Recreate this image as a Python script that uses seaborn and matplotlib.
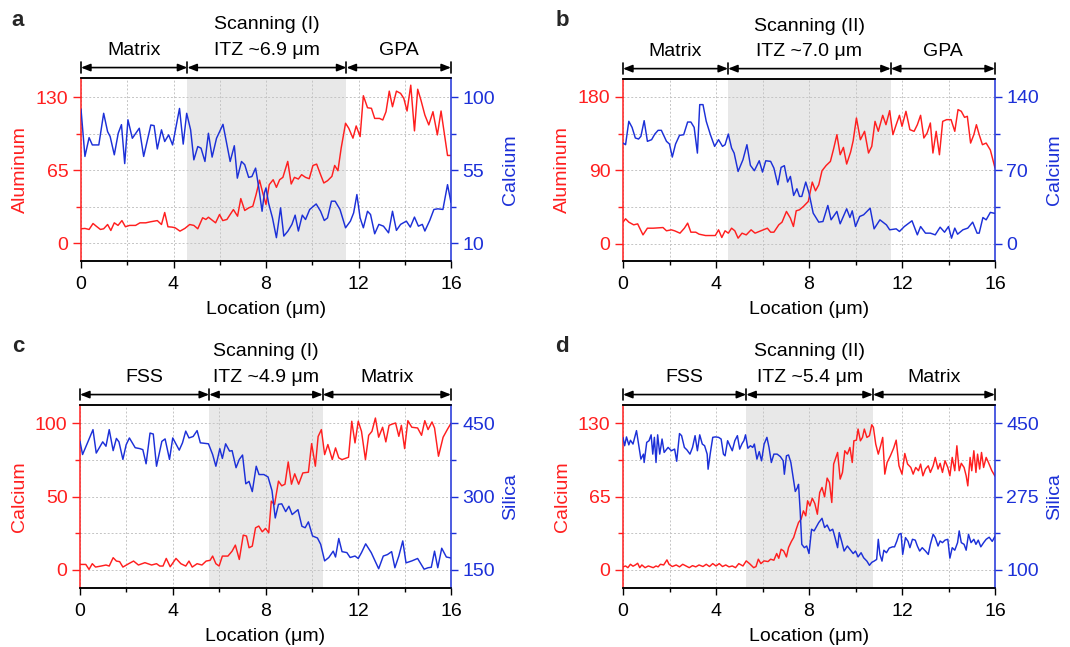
import numpy as np
import pandas as pd
import matplotlib
matplotlib.use("Agg")
import matplotlib.pyplot as plt
import matplotlib.transforms as mtransforms
from matplotlib.ticker import FixedLocator
import seaborn as sns

sns.set_theme(style="white")
plt.rcParams["font.family"] = ["Liberation Sans", "DejaVu Sans"]

# ---------------- data: (location in um, intensity) ----------------
a_al = [(0,12.7),(0.17,13),(0.35,12.1),(0.52,17.4),(0.66,15),(0.84,12.1),(0.98,12.7),(1.15,16.5),(1.29,11.2),(1.44,18),
        (1.6,15.7),(1.77,20),(1.92,14.5),(2.1,15.7),(2.36,15.7),(2.55,18),(2.8,18),(3.0,18.9),(3.3,20),(3.48,16.5),
        (3.62,27.2),(3.76,14.5),(3.93,14.2),(4.07,13.6),(4.28,10.6),(4.49,13),(4.7,16.5),(4.88,15.7),(5.05,12.7),(5.26,22.5),
        (5.4,21),(5.51,23),(5.67,20.4),(5.82,18),(5.99,25.4),(6.13,20),(6.31,21),(6.59,29.8),(6.77,23.9),(6.91,39.6),
        (7.08,29),(7.25,31.3),(7.43,32.8),(7.57,43.1),(7.72,56),(7.86,44.6),(8.0,34.3),(8.14,52),(8.31,56.4),(8.45,49.6),
        (8.59,56.4),(8.73,58.5),(8.94,72.7),(9.09,52.6),(9.23,58.5),(9.4,57),(9.54,60.9),(9.71,58.5),(9.87,57.3),(10.03,69.1),
        (10.19,70.3),(10.36,60.9),(10.5,53.5),(10.66,55.5),(10.85,59.4),(10.97,69.1),(11.11,64.4),(11.25,84.5),(11.44,106.7),(11.58,102.2),
        (11.76,93.4),(11.9,104.3),(12.07,94.8),(12.21,131.2),(12.39,120.5),(12.56,120),(12.7,111),(12.91,111),(13.05,109.6),(13.19,117),
        (13.33,135.3),(13.47,121.4),(13.64,135.3),(13.82,133.3),(13.96,128.8),(14.1,117.6),(14.26,140.6),(14.42,99.9),(14.56,137),(14.7,127.3),
        (14.87,114),(15.04,105.2),(15.22,117),(15.41,96.3),(15.57,117.6),(15.85,78),(16,78)]
a_ca = [(0,92.6),(0.17,63.4),(0.35,75),(0.49,70.5),(0.77,70.5),(0.98,90),(1.15,78.7),(1.26,75.7),(1.44,64.4),(1.61,77.7),
        (1.75,83),(1.89,59),(2.03,86),(2.22,74.6),(2.52,80.8),(2.71,63.4),(3.02,82.8),(3.16,82.4),(3.30,68),(3.48,79.8),
        (3.62,72.6),(3.79,76.7),(3.96,70.5),(4.26,93),(4.42,71),(4.57,90),(4.74,79.8),(4.88,61.3),(5.05,69.5),(5.19,68.5),
        (5.36,60.3),(5.51,77.7),(5.67,63),(5.86,74.6),(6.14,83.2),(6.45,60.3),(6.63,70),(6.76,50),(6.94,60.3),(7.08,58.3),
        (7.25,50.5),(7.39,51),(7.55,56.2),(7.69,44),(7.83,29.6),(7.93,40.9),(8.0,44),(8.11,34.7),(8.28,25.5),(8.45,13.3),
        (8.63,31.7),(8.77,14.3),(8.95,17.4),(9.12,21.5),(9.26,27.2),(9.4,17.4),(9.57,27.2),(9.71,24.5),(9.89,30.7),(10.17,34.1),
        (10.36,29.6),(10.52,23.9),(10.66,25.5),(10.83,35.8),(10.99,35.8),(11.2,30.7),(11.44,19.4),(11.65,23.5),(11.79,28.6),(11.93,39.9),
        (12.07,25.5),(12.21,19.4),(12.39,29.6),(12.52,27.6),(12.7,15.7),(12.88,21.5),(13.08,20.4),(13.3,16.3),(13.47,29.6),(13.64,17.8),
        (13.82,21.5),(14.07,23.5),(14.24,19.8),(14.42,26),(14.59,20.4),(14.76,21.5),(14.87,17.4),(15.08,23.9),(15.26,30.7),(15.43,31.1),
        (15.65,30.7),(15.85,46),(16,35)]

b_al = [(0,26.6),(0.11,30.7),(0.25,26.6),(0.46,23.3),(0.63,24.5),(0.86,11),(1.05,19.2),(1.3,19.2),(1.72,20),(1.87,16),
        (2.08,17.2),(2.22,16),(2.45,13.1),(2.64,19.2),(2.78,25.4),(2.92,14.3),(3.13,14.3),(3.27,11.9),(3.55,10.2),(3.97,10.2),
        (4.11,17.2),(4.25,7.8),(4.39,16),(4.53,13.1),(4.67,19.2),(4.81,16),(4.95,7),(5.12,13.1),(5.3,11),(5.51,17.2),
        (5.68,13.1),(5.93,16),(6.21,19.2),(6.35,14.3),(6.49,14.3),(6.7,23.3),(6.84,26.6),(7.03,39.7),(7.2,31.5),(7.33,21.3),
        (7.45,40.5),(7.59,41.7),(7.76,45.8),(7.97,52),(8.14,75.7),(8.28,65),(8.42,72.4),(8.56,89.6),(8.74,96.1),(8.92,101),
        (9.06,116.6),(9.2,133.8),(9.34,109.2),(9.48,118.2),(9.62,97.8),(9.79,112.5),(9.9,126.4),(10.04,154.2),(10.21,127.6),(10.39,137.9),
        (10.56,111.3),(10.7,119.5),(10.84,150.1),(10.98,137.9),(11.17,157.5),(11.31,146),(11.47,163.2),(11.61,133.8),(11.75,146),(11.89,157.5),
        (12.0,144),(12.17,162.4),(12.34,139.9),(12.52,137.9),(12.66,146),(12.8,157.5),(12.94,129.7),(13.08,135.8),(13.22,148.1),(13.33,111.3),
        (13.47,137.9),(13.61,109.2),(13.75,150.1),(13.92,152.2),(14.11,152.2),(14.27,137.9),(14.41,164.5),(14.55,162.4),(14.69,155),(14.81,156.3),
        (14.95,123.5),(15.09,133.8),(15.2,146),(15.32,133.8),(15.46,121.5),(15.62,123.5),(15.8,115),(16,93)]
b_ca = [(0,96.1),(0.11,94.5),(0.25,116.8),(0.39,111),(0.53,100.9),(0.67,99.9),(0.77,102.5),(0.91,117.4),(1.05,97.7),(1.23,99.3),
        (1.37,104.7),(1.51,108.2),(1.65,108.2),(1.87,97.7),(2.0,95.1),(2.12,82.7),(2.26,95.1),(2.43,103.4),(2.61,104),(2.78,116.1),
        (2.92,116.1),(3.06,111),(3.2,86.5),(3.3,132.7),(3.44,132.7),(3.58,116.8),(3.76,104),(3.94,92.9),(4.11,99.3),(4.28,92.9),
        (4.39,94.5),(4.53,104.7),(4.67,91.3),(4.78,86.5),(4.95,69),(5.16,80.2),(5.33,94.5),(5.48,74.8),(5.65,69.7),(5.86,79.2),
        (6.0,68.4),(6.14,79.2),(6.35,78.6),(6.49,72.2),(6.66,56.3),(6.8,72.9),(6.94,74.5),(7.08,58.9),(7.2,64.3),(7.34,46.1),
        (7.48,52.5),(7.59,45.2),(7.69,45.2),(7.86,58.9),(8.0,48.4),(8.18,29.3),(8.42,20.7),(8.6,21.3),(8.81,36.6),(8.95,22.9),
        (9.2,30.9),(9.34,19.1),(9.62,33.4),(9.76,25.1),(9.86,31.5),(10.0,16.5),(10.18,26.1),(10.35,27.7),(10.63,34),(10.8,14.3),
        (11.05,22.9),(11.33,18.1),(11.47,13.4),(11.75,14.3),(11.89,11.8),(12.1,16.5),(12.43,22),(12.66,8.6),(12.8,16.5),(13.01,10.2),
        (13.22,10.2),(13.43,8.6),(13.64,15.9),(13.83,11.1),(14.0,16.5),(14.13,5.4),(14.27,15),(14.39,9.2),(14.62,13.4),(14.83,15),
        (15.04,20.7),(15.23,10.2),(15.32,10.2),(15.48,25.1),(15.62,22.9),(15.8,30),(16,29)]

c_ca = [(0,3.6),(0.25,3.6),(0.39,0.2),(0.53,4.1),(0.67,1.8),(0.91,2.5),(1.12,3.2),(1.26,2.5),(1.43,8.2),(1.57,5.9),
        (1.71,5.5),(1.85,1.8),(2.1,4.1),(2.31,5.9),(2.52,3.2),(2.8,4.8),(3.09,3.2),(3.3,4.1),(3.44,2.5),(3.58,2.5),
        (3.72,7.7),(3.89,2),(4.14,7.7),(4.35,4.1),(4.56,2.5),(4.7,5.9),(4.84,1.8),(5.05,4.1),(5.26,3.2),(5.44,5.9),
        (5.61,6.4),(5.72,9.3),(5.86,4.1),(6.0,2.5),(6.14,9.3),(6.38,9.3),(6.56,12.7),(6.7,16.8),(6.87,7),(7.04,23.6),
        (7.18,23),(7.29,15),(7.43,16.1),(7.57,28.6),(7.71,29.8),(7.86,25.9),(8.0,28.2),(8.14,25.2),(8.25,46.8),(8.39,44.5),
        (8.56,60.5),(8.7,57.3),(8.84,58.4),(8.98,73.6),(9.12,58.4),(9.26,65.5),(9.43,58.4),(9.61,66.1),(9.85,66.6),(9.99,86.1),
        (10.15,70.7),(10.27,91),(10.41,95.7),(10.55,78.6),(10.69,85.5),(10.88,75.2),(11.02,83.2),(11.16,76.4),(11.3,75.2),(11.58,76.8),
        (11.72,101.4),(11.86,86.6),(12.0,101.4),(12.14,94.5),(12.31,75.2),(12.45,91.8),(12.59,94.5),(12.74,103.6),(12.88,90.5),(13.05,97.3),
        (13.19,87.3),(13.33,98.6),(13.47,99.5),(13.61,100.2),(13.75,91.1),(13.86,98.6),(14.0,82.7),(14.14,101.8),(14.31,97.3),(14.56,96.8),
        (14.73,91.8),(14.87,101.8),(15.01,95.7),(15.18,100.9),(15.29,96.8),(15.46,77.5),(15.66,90.5),(15.85,96),(16,100)]
c_si = [(0,413),(0.11,386),(0.35,413),(0.56,437),(0.7,389),(0.98,412),(1.12,403),(1.26,437),(1.43,394),(1.57,419),
        (1.68,412),(1.85,376),(1.99,406),(2.13,420),(2.38,400),(2.59,398),(2.71,396),(2.85,367),(3.02,430),(3.16,428),
        (3.3,362),(3.53,413),(3.67,418),(3.86,376),(4.0,420),(4.28,395),(4.42,410),(4.56,434),(4.7,420),(4.88,423),
        (5.05,435),(5.19,410),(5.54,408),(5.72,386),(5.86,362),(6.03,398),(6.14,378),(6.28,408),(6.45,393),(6.56,394),
        (6.73,359),(6.87,376),(7.01,385),(7.15,326),(7.29,331),(7.43,310),(7.6,362),(7.72,345),(7.93,345),(8.11,340),
        (8.28,312),(8.42,256),(8.56,284),(8.7,285),(8.87,269),(9.01,280),(9.15,263),(9.4,273),(9.57,239),(9.71,236),
        (9.85,248),(10.03,219),(10.24,215),(10.38,202),(10.55,168),(10.73,175),(10.92,188),(11.02,176),(11.16,214),(11.3,187),
        (11.51,185),(11.65,175),(11.86,178),(12.0,173),(12.14,185),(12.32,203),(12.56,185),(12.88,152),(13.08,178),(13.26,181),
        (13.44,187),(13.58,154),(13.75,178),(13.92,209),(14.06,164),(14.31,168),(14.56,173),(14.84,151),(15.01,154),(15.15,155),
        (15.29,188),(15.43,154),(15.6,194),(15.8,176),(16,174)]

d_ca = [(0,2.7),(0.11,3.5),(0.21,2),(0.32,5),(0.43,3.3),(0.53,4.4),(0.63,5.9),(0.72,2),(0.81,4.4),(0.95,2),
        (1.09,3.5),(1.3,2),(1.42,3.5),(1.51,2.7),(1.61,5),(1.75,4.4),(1.89,8.9),(1.98,5),(2.12,3),(2.29,4.4),
        (2.43,2.7),(2.57,5),(2.71,3.5),(2.85,2),(2.99,3.8),(3.13,2.7),(3.27,4.4),(3.44,3),(3.58,5),(3.72,3),
        (3.86,5.6),(4.0,3.5),(4.14,5.6),(4.28,3),(4.42,4.4),(4.56,2.7),(4.7,3.5),(4.84,2),(4.98,5.6),(5.16,3.5),
        (5.3,8),(5.44,5.6),(5.62,2),(5.72,3),(5.82,9.5),(5.93,5.6),(6.07,8),(6.24,7.4),(6.35,9.5),(6.49,8.6),
        (6.61,14.5),(6.7,10.3),(6.8,18.3),(6.91,16.8),(7.03,11.5),(7.12,19.8),(7.24,25.1),(7.34,28.7),(7.45,36),(7.55,42),
        (7.66,44.9),(7.76,52.3),(7.86,47.9),(7.94,61.2),(8.04,56.7),(8.14,63.5),(8.25,58.8),(8.36,49.3),(8.46,68.5),(8.56,73),
        (8.67,64.7),(8.78,81.3),(8.88,77.4),(8.98,59.7),(9.06,93.7),(9.16,99.6),(9.23,104),(9.34,80.4),(9.44,86.3),(9.54,105.5),
        (9.65,102.5),(9.76,108.4),(9.86,95.1),(9.93,114.3),(10.04,114.9),(10.11,124.7),(10.21,114.3),(10.3,117.3),(10.38,124.7),(10.49,117.3),
        (10.6,118.8),(10.7,128.5),(10.77,126.2),(10.87,111.4),(10.98,102.5),(11.08,109.9),(11.17,117.3),(11.26,84.8),(11.36,95.1),(11.5,101),
        (11.64,107.8),(11.75,114.9),(11.87,92.2),(12.0,84.8),(12.12,103.1),(12.24,93.7),(12.38,90.7),(12.48,84.8),(12.59,90.7),(12.71,87.8),
        (12.8,93.7),(12.9,83.3),(13.01,89.3),(13.13,92.2),(13.22,86.3),(13.34,92.2),(13.43,99.6),(13.55,89.3),(13.64,94.4),(13.74,86.3),
        (13.85,96.7),(13.97,90.7),(14.06,83.3),(14.16,99.6),(14.27,87.8),(14.36,109.9),(14.46,87.8),(14.55,94.4),(14.67,90.7),(14.76,83.3),
        (14.83,74.4),(14.93,99.6),(15.0,87.8),(15.09,105.5),(15.18,86.3),(15.25,102.5),(15.34,89.3),(15.42,104),(15.51,90.7),(15.62,99.6),
        (15.72,95),(15.86,88),(16,83)]
d_si = [(0,416),(0.07,396),(0.15,417),(0.25,398),(0.32,409),(0.43,400),(0.58,432),(0.67,400),(0.77,364),(0.88,376),
        (0.91,356),(1.02,404),(1.12,408),(1.21,422),(1.28,376),(1.35,416),(1.42,356),(1.49,422),(1.58,376),(1.68,412),
        (1.77,380),(1.94,392),(2.08,384),(2.22,388),(2.31,359),(2.43,425),(2.52,420),(2.64,392),(2.75,386),(2.88,376),
        (2.99,392),(3.1,420),(3.2,384),(3.3,422),(3.41,400),(3.51,396),(3.62,376),(3.66,340),(3.76,380),(3.86,416),
        (3.97,417),(4.11,416),(4.22,412),(4.32,376),(4.39,372),(4.5,408),(4.6,396),(4.7,384),(4.81,408),(4.92,420),
        (5.02,388),(5.12,401),(5.2,408),(5.27,422),(5.37,390),(5.48,396),(5.58,392),(5.65,400),(5.76,364),(5.86,382),
        (5.96,360),(6.07,400),(6.19,416),(6.28,392),(6.38,356),(6.49,376),(6.63,376),(6.77,370),(6.89,360),(6.94,328),
        (7.03,372),(7.12,374),(7.22,356),(7.33,316),(7.41,287),(7.5,296),(7.55,304),(7.62,241),(7.69,161),(7.8,153),
        (7.9,157),(8.0,139),(8.11,197),(8.22,193),(8.32,203),(8.42,213),(8.56,223),(8.67,201),(8.78,207),(8.9,193),
        (9.02,197),(9.12,177),(9.23,153),(9.3,189),(9.4,169),(9.51,145),(9.65,157),(9.76,149),(9.9,139),(10.0,145),
        (10.11,131),(10.24,141),(10.35,129),(10.49,121),(10.6,111),(10.7,118),(10.8,121),(10.91,125),(10.98,173),(11.05,137),
        (11.14,121),(11.22,147),(11.33,141),(11.45,152),(11.59,155),(11.68,155),(11.78,169),(11.87,185),(11.96,187),(12.03,137),
        (12.15,177),(12.26,168),(12.34,153),(12.45,173),(12.57,171),(12.66,157),(12.76,145),(12.87,153),(13.01,145),(13.13,137),
        (13.22,161),(13.34,185),(13.43,177),(13.55,157),(13.64,169),(13.74,165),(13.85,171),(13.97,173),(14.06,128),(14.16,153),
        (14.27,147),(14.39,165),(14.46,193),(14.55,165),(14.67,161),(14.76,147),(14.86,185),(14.97,165),(15.09,173),(15.18,161),
        (15.28,171),(15.39,155),(15.51,165),(15.62,173),(15.75,178),(15.88,168),(16,180)]

# tick values and labels
a_left_ticks, a_right_ticks = [0, 65, 130], [10, 55, 100]
b_left_ticks, b_right_ticks = [0, 90, 180], [0, 70, 140]
c_left_ticks, c_right_ticks = [0, 50, 100], [150, 300, 450]
d_left_ticks, d_right_ticks = [0, 65, 130], [100, 275, 450]
x_ticks = [0, 4, 8, 12, 16]

a_bounds = [0, 4.6, 11.48, 16]
b_bounds = [0, 4.52, 11.52, 16]
c_bounds = [0, 5.57, 10.47, 16]
d_bounds = [0, 5.3, 10.75, 16]

a_segments = ["Matrix", "ITZ ~6.9 μm", "GPA"]
b_segments = ["Matrix", "ITZ ~7.0 μm", "GPA"]
c_segments = ["FSS", "ITZ ~4.9 μm", "Matrix"]
d_segments = ["FSS", "ITZ ~5.4 μm", "Matrix"]

# ---------------- style ----------------
RED = "#ff1f1f"
BLUE = "#1c30d8"
FS = 14
W, H = 1070, 647

panels = [
    dict(letter="a", rect=(81, 78, 451, 261), red=a_al, blue=a_ca, lname="Aluminum", rname="Calcium",
         lt=a_left_ticks, rt=a_right_ticks, llim=(-16, 147), bounds=a_bounds, segs=a_segments, scan="Scanning (I)"),
    dict(letter="b", rect=(623, 79, 995, 261), red=b_al, blue=b_ca, lname="Aluminum", rname="Calcium",
         lt=b_left_ticks, rt=b_right_ticks, llim=(-21, 202), bounds=b_bounds, segs=b_segments, scan="Scanning (II)"),
    dict(letter="c", rect=(80, 405, 451, 588), red=c_ca, blue=c_si, lname="Calcium", rname="Silica",
         lt=c_left_ticks, rt=c_right_ticks, llim=(-12.5, 112.5), bounds=c_bounds, segs=c_segments, scan="Scanning (I)"),
    dict(letter="d", rect=(623, 405, 995, 588), red=d_ca, blue=d_si, lname="Calcium", rname="Silica",
         lt=d_left_ticks, rt=d_right_ticks, llim=(-16, 146), bounds=d_bounds, segs=d_segments, scan="Scanning (II)"),
]

fig = plt.figure(figsize=(W / 100, H / 100), dpi=100)

for p in panels:
    x0, y0, x1, y1 = p["rect"]
    ax = fig.add_axes([x0 / W, 1 - y1 / H, (x1 - x0) / W, (y1 - y0) / H])
    ax2 = ax.twinx()

    red = pd.DataFrame(p["red"], columns=["loc", "val"])
    blue = pd.DataFrame(p["blue"], columns=["loc", "val"])

    # shaded ITZ
    ax.axvspan(p["bounds"][1], p["bounds"][2], color="#e8e8e8", lw=0, zorder=0.2)

    sns.lineplot(data=red, x="loc", y="val", ax=ax, color=RED, linewidth=1.05, estimator=None, sort=False)
    sns.lineplot(data=blue, x="loc", y="val", ax=ax2, color=BLUE, linewidth=1.05, estimator=None, sort=False)

    lt, rt = p["lt"], p["rt"]
    llim = p["llim"]
    scale = (rt[-1] - rt[0]) / (lt[-1] - lt[0])
    rlim = (rt[0] + (llim[0] - lt[0]) * scale, rt[0] + (llim[1] - lt[0]) * scale)

    ax.set_xlim(0, 16)
    ax.set_ylim(*llim)
    ax2.set_ylim(*rlim)

    ax.xaxis.set_major_locator(FixedLocator(x_ticks))
    ax.xaxis.set_minor_locator(FixedLocator([2, 6, 10, 14]))
    ax.yaxis.set_major_locator(FixedLocator(lt))
    ax.yaxis.set_minor_locator(FixedLocator([(lt[0] + lt[1]) / 2, (lt[1] + lt[2]) / 2]))
    ax2.yaxis.set_major_locator(FixedLocator(rt))
    ax2.yaxis.set_minor_locator(FixedLocator([(rt[0] + rt[1]) / 2, (rt[1] + rt[2]) / 2]))
    ax.set_yticklabels([str(v) for v in lt])
    ax2.set_yticklabels([str(v) for v in rt])
    ax.set_xticklabels([str(v) for v in x_ticks])

    ax.set_axisbelow(True)
    ax.grid(True, which="both", axis="both", color="#c4c4c4", linestyle=(0, (2, 2)), linewidth=0.7)
    ax2.grid(False)

    # spines
    for s in list(ax.spines.values()) + list(ax2.spines.values()):
        s.set_linewidth(1.1)
        s.set_color("black")
    ax.spines["left"].set_color(RED)
    ax.spines["right"].set_visible(False)
    ax2.spines["left"].set_visible(False)
    ax2.spines["right"].set_color(BLUE)

    ax.tick_params(axis="x", which="major", direction="out", length=5, width=1.0, colors="black",
                   labelsize=FS, pad=5.5, bottom=True)
    ax.tick_params(axis="x", which="minor", direction="out", length=3, width=1.0, colors="black", bottom=True)
    ax.tick_params(axis="y", which="major", direction="out", length=6, width=1.0, colors=RED,
                   labelsize=FS, pad=3, left=True)
    ax.tick_params(axis="y", which="minor", direction="out", length=3.5, width=1.0, colors=RED, left=True)
    ax2.tick_params(axis="y", which="major", direction="out", length=5, width=1.0, colors=BLUE,
                    labelsize=FS, pad=3, right=True)
    ax2.tick_params(axis="y", which="minor", direction="out", length=3.5, width=1.0, colors=BLUE, right=True)

    ax.set_xlabel("Location (μm)", fontsize=FS, color="black", labelpad=6)
    ax.set_ylabel(p["lname"], fontsize=FS, color=RED, labelpad=5)
    ax2.set_ylabel(p["rname"], fontsize=FS, color=BLUE, labelpad=5)

    # region brackets above the axes
    trans = mtransforms.blended_transform_factory(ax.transData, ax.transAxes)
    b = p["bounds"]
    ya = 1.057
    for i in range(3):
        ax.annotate("", xy=(b[i + 1], ya), xytext=(b[i], ya), xycoords=trans, textcoords=trans,
                    arrowprops=dict(arrowstyle="<|-|>,head_length=0.55,head_width=0.22", color="black",
                                    lw=1.2, shrinkA=0, shrinkB=0, mutation_scale=10),
                    annotation_clip=False)
        ax.text((b[i] + b[i + 1]) / 2, 1.152, p["segs"][i], transform=trans, ha="center", va="center",
                fontsize=FS, color="black", clip_on=False)
    for xb in b:
        ax.plot([xb, xb], [1.028, 1.088], transform=trans, color="black", lw=1.2, clip_on=False)
    ax.text((b[1] + b[2]) / 2, 1.29, p["scan"], transform=trans, ha="center", va="center",
            fontsize=FS, color="black", clip_on=False)

    # panel letter
    lx = 18 if p["letter"] in ("a", "c") else 562
    ly = 20 if p["letter"] in ("a", "b") else 346
    fig.text(lx / W, 1 - ly / H, p["letter"], fontsize=16, fontweight="bold", ha="center", va="center")

fig.savefig("out.png", dpi=100)
